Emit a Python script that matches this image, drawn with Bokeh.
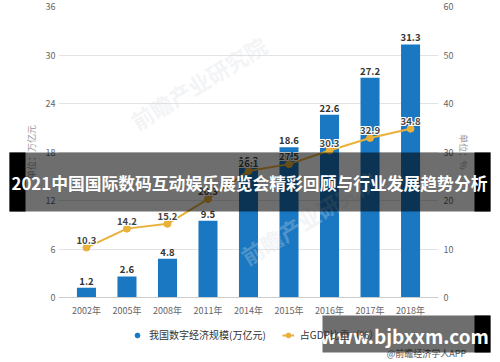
from bokeh.plotting import figure
from bokeh.models import (ColumnDataSource, Range1d, LinearAxis, FactorRange, FixedTicker,
                          Legend, LegendItem, BoxAnnotation, Label)
from bokeh.embed import file_html
from bokeh.resources import INLINE
from bokeh.core.properties import value

years = ["2002年", "2005年", "2008年", "2011年", "2014年", "2015年", "2016年", "2017年", "2018年"]
scale = [1.2, 2.6, 4.8, 9.5, 16.2, 18.6, 22.6, 27.2, 31.3]
gdp_share = [10.3, 14.2, 15.2, 20.3, 26.1, 27.5, 30.3, 32.9, 34.8]
left_ticks = [0, 6, 12, 18, 24, 30, 36]
right_ticks = [0, 10, 20, 30, 40, 50, 60]

FONT = "Noto Sans CJK SC"
BLUE = "#1a78c2"
GOLD = "#e9b03a"
W, H = 500, 362

src = ColumnDataSource(dict(
    x=years, bar=scale, line=gdp_share,
    bar_lbl=[f"{v:.1f}" for v in scale],
    line_lbl=[f"{v:.1f}" for v in gdp_share],
))

p = figure(width=W, height=H, output_backend="svg", toolbar_location=None,
           x_range=FactorRange(*years, range_padding=0.19, range_padding_units="absolute"),
           y_range=Range1d(0, 36),
           min_border_left=58, min_border_right=62, min_border_top=6, min_border_bottom=65)
p.outline_line_color = None
p.background_fill_color = "white"
p.extra_y_ranges = {"pct": Range1d(0, 60)}

p.xgrid.grid_line_color = None
p.ygrid.grid_line_color = "#e3e3e3"
p.ygrid.ticker = FixedTicker(ticks=left_ticks)

p.yaxis.ticker = FixedTicker(ticks=left_ticks)
p.yaxis.axis_line_color = None
p.yaxis.major_tick_line_color = None
p.yaxis.minor_tick_line_color = None
p.yaxis.major_tick_out = 0
p.yaxis.minor_tick_out = 0
p.yaxis.major_label_text_font = FONT
p.yaxis.major_label_text_font_size = "9px"
p.yaxis.major_label_text_color = "#666666"
p.yaxis.major_label_standoff = 3
p.yaxis.axis_label = "单位：万亿元"
p.yaxis.axis_label_text_font = FONT
p.yaxis.axis_label_text_font_size = "9px"
p.yaxis.axis_label_text_font_style = "normal"
p.yaxis.axis_label_text_color = "#999999"
p.yaxis.axis_label_standoff = 5

ra = LinearAxis(y_range_name="pct", ticker=FixedTicker(ticks=right_ticks))
ra.axis_line_color = None
ra.major_tick_line_color = None
ra.minor_tick_line_color = None
ra.major_tick_out = 0
ra.minor_tick_out = 0
ra.major_label_text_font = FONT
ra.major_label_text_font_size = "9px"
ra.major_label_text_color = "#666666"
ra.major_label_standoff = 5
ra.axis_label = "单位：%"
ra.axis_label_text_font = FONT
ra.axis_label_text_font_size = "9px"
ra.axis_label_text_font_style = "normal"
ra.axis_label_text_color = "#999999"
ra.axis_label_standoff = 1
p.add_layout(ra, "right")

p.xaxis.axis_line_color = "#cccccc"
p.xaxis.major_tick_line_color = None
p.xaxis.minor_tick_line_color = None
p.xaxis.major_tick_out = 0
p.xaxis.minor_tick_out = 0
p.xaxis.major_label_text_font = FONT
p.xaxis.major_label_text_font_size = "9px"
p.xaxis.major_label_text_color = "#666666"
p.xaxis.major_label_standoff = 6

# faint watermarks (frame-relative screen units)
for (wx, wy) in [(140, 215), (250, 80)]:
    p.add_layout(Label(x=wx, y=wy, x_units="screen", y_units="screen", text="前瞻产业研究院",
                       text_font=FONT, text_font_size="22px", text_font_style="bold",
                       text_color="#d5d9e0", text_alpha=0.3, angle=0.55,
                       text_align="center", text_baseline="middle"))

# bars + labels
p.vbar(x="x", top="bar", width=0.47, source=src, color=BLUE, line_color=None)
p.text(x="x", y="bar", text="bar_lbl", source=src, text_font=value(FONT),
       text_font_size="9.5px", text_font_style="bold", text_color="#333333",
       text_align="center", text_baseline="bottom", y_offset=-3)

# line + labels with white halo
p.line(x="x", y="line", source=src, y_range_name="pct", line_color=GOLD, line_width=2)
p.scatter(x="x", y="line", source=src, y_range_name="pct", size=7,
          fill_color=GOLD, line_color=GOLD)
for dx, dy in [(-1, 0), (1, 0), (0, -1), (0, 1), (-1, -1), (1, 1), (-1, 1), (1, -1)]:
    p.text(x="x", y="line", text="line_lbl", source=src, y_range_name="pct",
           text_font=value(FONT), text_font_size="9.5px", text_font_style="bold",
           text_color="white", text_align="center", text_baseline="bottom",
           x_offset=dx, y_offset=-4 + dy)
p.text(x="x", y="line", text="line_lbl", source=src, y_range_name="pct",
       text_font=value(FONT), text_font_size="9.5px", text_font_style="bold",
       text_color="#444444", text_align="center", text_baseline="bottom", y_offset=-4)

# ---- overlay layer (legend, banners): a second root, full-canvas frame, pixel coords ----
ov = figure(width=W, height=H, output_backend="svg", toolbar_location=None,
            x_range=Range1d(0, W), y_range=Range1d(H, 0),
            x_axis_type=None, y_axis_type=None,
            min_border=0, min_border_left=0, min_border_right=0,
            min_border_top=0, min_border_bottom=0)
ov.outline_line_color = None
ov.background_fill_alpha = 0
ov.border_fill_alpha = 0
ov.styles = {"position": "absolute", "top": "0px", "left": "0px"}

# legend proxies, placed off-canvas so only their legend glyphs show
d_bar = ov.scatter(x=[-100], y=[-100], marker="circle", size=10, fill_color=BLUE, line_color=BLUE)
d_line = ov.line(x=[-100, -90], y=[-100, -100], line_color=GOLD, line_width=2)
d_pt = ov.scatter(x=[-100], y=[-100], marker="circle", size=7, fill_color=GOLD, line_color=GOLD)
legend = Legend(items=[LegendItem(label="我国数字经济规模(万亿元)", renderers=[d_bar]),
                       LegendItem(label="占GDP比重（%）", renderers=[d_line, d_pt])],
                orientation="horizontal", location=(131, 20),
                label_text_font=FONT, label_text_font_size="10px", label_text_color="#333333",
                glyph_width=12, glyph_height=14, label_standoff=6, spacing=16,
                padding=0, margin=0, border_line_color=None, background_fill_alpha=0)
ov.add_layout(legend, "center")

# title banner
ov.add_layout(BoxAnnotation(left=9, right=490, top=152, bottom=211,
                            fill_color="black", fill_alpha=0.57, line_color=None))
ov.add_layout(BoxAnnotation(left=9, right=25, top=152, bottom=211,
                            fill_color="black", fill_alpha=1, line_color=None))
ov.add_layout(BoxAnnotation(left=474, right=490, top=152, bottom=211,
                            fill_color="black", fill_alpha=1, line_color=None))
ov.add_layout(Label(x=249, y=182,
                    text="2021中国国际数码互动娱乐展览会精彩回顾与行业发展趋势分析",
                    text_font=FONT, text_font_size="16.8px", text_font_style="bold",
                    text_color="white", text_align="center", text_baseline="middle"))

# source note + site banner
ov.add_layout(Label(x=426, y=353, text="@前瞻经济学人APP",
                    text_font=FONT, text_font_size="9px", text_color="#555555",
                    text_align="center", text_baseline="middle"))
ov.add_layout(BoxAnnotation(left=322, right=490, top=315, bottom=352,
                            fill_color="black", fill_alpha=0.57, line_color=None))
ov.add_layout(BoxAnnotation(left=474, right=490, top=315, bottom=352,
                            fill_color="black", fill_alpha=1, line_color=None))
ov.add_layout(Label(x=404, y=335, text="www.bjbxxm.com",
                    text_font=FONT, text_font_size="19px", text_font_style="bold",
                    text_color="white", text_align="center", text_baseline="middle"))

open("out.html", "w").write(file_html([p, ov], INLINE))
